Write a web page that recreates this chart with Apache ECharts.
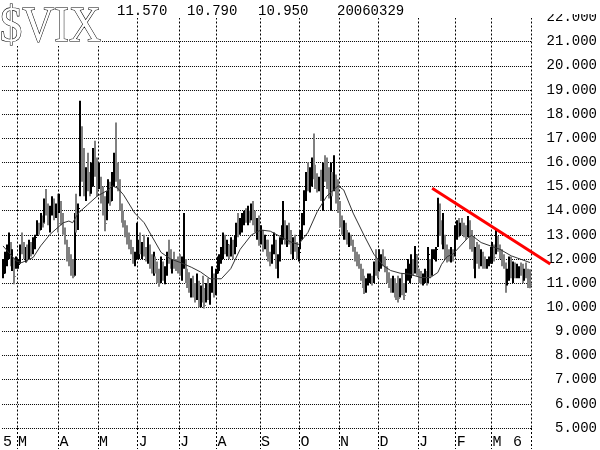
<!DOCTYPE html>
<html><head><meta charset="utf-8">
<script src="https://cdn.jsdelivr.net/npm/echarts@6/dist/echarts.min.js"></script>
<style>html,body{margin:0;padding:0;background:#fff}#c{width:600px;height:450px}</style>
</head><body><div id="c"></div>
<script>
// trading days per month: Feb-2005 (partial) ... Mar-2006 (to the 29th)
const monthDays = [8,22,21,21,22,20,23,21,21,21,21,20,19,21];
const monthLetters = ['','M','A','M','J','J','A','S','O','N','D','J','F','M'];
const yearLabelIdx = [0, 271];
const yearLabelText = ['5', '6'];
const headerTexts = ['11.570','10.790','10.950','20060329'];

const hi = [
12.0,12.3,12.6,13.1,12.7,12.4,12.05,12.1,
12.0,12.6,13.1,12.7,12.5,12.6,12.8,12.7,12.9,13.0,13.6,13.5,13.9,13.8,14.5,14.9,14.3,14.2,14.6,14.5,14.3,14.7,
14.7,14.4,13.9,13.3,12.8,12.5,12.2,12.0,13.9,14.7,14.3,18.55,17.5,16.6,15.8,16.4,15.6,16.0,16.6,16.9,16.2,
16.0,15.4,15.0,14.6,14.8,15.3,15.2,15.6,16.4,17.65,16.0,15.3,14.3,14.0,13.6,13.4,13.1,12.8,12.5,12.3,13.5,
12.8,13.1,12.7,13.0,12.5,12.9,12.6,12.2,12.3,12.1,11.9,11.6,12.1,11.9,11.7,12.3,12.8,12.4,12.0,12.3,12.0,12.1,
12.2,12.1,13.9,12.0,11.6,11.45,11.2,11.3,11.0,11.4,11.1,10.9,11.3,10.8,11.0,11.2,11.0,11.7,11.4,11.6,
12.1,12.2,12.5,13.1,13.0,12.8,12.6,12.9,12.8,12.95,13.5,13.9,13.7,13.9,14.0,14.1,14.2,14.0,14.3,14.4,14.0,13.7,13.8,
13.4,13.2,13.0,12.8,12.8,12.3,12.6,13.1,12.8,12.2,12.9,13.4,14.4,13.6,13.4,13.5,13.2,12.9,13.0,12.7,12.5,
13.2,13.9,14.85,15.6,16.0,15.8,16.2,17.2,15.9,15.55,15.4,15.7,16.0,16.3,16.2,15.8,16.0,15.6,16.3,15.5,15.3,
14.4,13.8,13.6,13.5,13.2,13.1,13.0,12.8,12.5,12.3,12.2,11.8,11.6,11.3,11.2,11.4,11.4,11.3,11.9,12.4,12.0,
12.4,12.2,12.4,12.1,11.7,11.45,11.2,11.3,11.2,11.0,11.3,11.2,11.4,11.0,11.6,12.0,11.8,12.2,12.0,12.54,12.2,
11.6,11.5,11.4,11.6,11.5,12.5,12.0,12.4,12.4,12.5,14.54,14.3,13.6,13.9,13.0,12.6,12.4,12.5,12.4,13.4,
13.6,13.7,13.5,13.7,13.5,13.4,13.78,13.6,13.2,12.95,12.5,12.7,12.6,12.4,12.3,12.1,12.0,12.1,12.5,
12.7,12.6,13.2,12.95,12.6,12.4,12.2,11.85,11.6,12.1,12.1,11.9,11.85,11.8,11.7,11.85,11.8,11.6,11.85,11.6,11.57
];
const lo = [
11.2,11.4,11.7,12.0,11.7,11.5,10.95,11.6,
11.6,11.8,12.2,12.0,11.85,11.9,12.0,12.1,12.2,12.4,12.95,13.0,13.2,13.3,13.5,13.8,13.4,13.1,13.8,13.6,13.7,13.1,
13.9,13.4,13.0,12.6,11.9,11.7,11.3,11.2,11.3,13.1,13.2,14.6,15.2,14.6,14.4,14.8,14.6,14.7,15.0,15.4,14.6,
14.9,14.3,13.8,13.15,13.6,14.3,14.2,14.4,15.0,15.2,14.8,14.0,13.5,13.3,12.9,12.6,12.4,12.2,11.8,11.7,12.0,
12.0,12.2,12.0,12.1,11.9,11.8,11.6,11.4,11.3,11.4,11.0,10.85,11.0,11.1,10.95,11.3,11.8,11.6,11.4,11.6,11.5,11.4,
11.3,11.1,11.6,11.0,10.8,10.6,10.4,10.4,10.2,10.3,10.0,10.0,10.2,9.95,10.2,10.3,10.1,10.6,10.4,10.5,
11.4,11.5,11.8,12.0,12.2,12.1,12.0,12.1,12.0,12.2,12.5,12.9,13.0,13.1,13.4,13.5,13.4,13.5,13.6,13.4,13.1,12.8,12.55,
12.6,12.3,12.4,12.1,11.9,11.7,11.8,12.2,11.6,11.2,11.9,12.6,12.8,12.6,12.5,12.6,12.2,12.0,12.3,12.0,11.9,
12.4,12.8,13.4,14.4,14.8,14.75,15.0,15.3,14.9,14.75,14.8,14.4,14.0,15.2,14.9,14.5,14.0,14.6,14.8,14.3,13.9,
13.3,13.0,12.8,12.8,12.6,12.5,12.55,12.3,11.9,11.7,11.6,11.1,10.8,10.55,10.6,10.9,11.0,10.9,11.0,11.3,11.2,
11.5,11.6,11.7,11.45,11.0,10.8,10.6,10.6,10.4,10.3,10.2,10.4,10.5,10.3,10.6,11.1,11.0,11.2,11.3,11.4,11.3,
11.0,10.95,10.9,11.0,10.9,11.0,11.2,11.3,12.0,11.9,12.5,12.95,12.6,12.4,12.0,11.85,11.9,11.85,11.9,12.1,
12.8,12.9,12.95,13.0,12.9,12.8,12.9,12.4,12.3,11.6,11.2,11.8,11.6,11.7,11.6,11.6,11.6,11.7,11.8,
11.8,11.9,12.2,12.3,12.0,11.7,11.6,10.6,10.9,11.1,11.2,11.0,11.2,11.2,11.2,11.3,11.0,11.1,11.2,10.8,10.79
];
const cl = [
11.4,12.1,12.4,12.6,11.9,12.0,11.3,11.8,
11.8,12.5,12.4,12.2,12.3,12.0,12.6,12.3,12.7,12.9,13.4,13.2,13.7,13.5,14.2,14.0,13.6,14.0,14.4,13.9,14.1,13.5,
14.4,13.6,13.2,12.8,12.1,11.9,11.5,11.3,13.6,13.4,14.1,17.4,16.0,14.9,15.3,15.0,14.8,15.6,16.2,15.8,14.8,
15.2,14.5,14.0,13.5,14.5,15.0,14.4,15.4,16.0,15.5,15.0,14.2,13.7,13.5,13.1,12.8,12.6,12.3,12.0,12.2,12.2,
12.5,12.4,12.6,12.3,12.0,12.5,11.8,11.6,12.0,11.5,11.2,11.0,11.8,11.3,11.5,12.1,12.0,11.8,11.9,11.8,11.7,11.6,
11.5,11.9,12.0,11.2,11.0,10.8,11.0,10.6,10.4,11.1,10.3,10.5,10.3,10.1,10.8,10.5,10.8,11.1,10.7,11.4,
11.9,12.0,12.3,12.9,12.4,12.6,12.2,12.7,12.3,12.8,13.3,13.2,13.5,13.6,13.8,13.7,14.0,13.7,14.1,13.6,13.3,13.5,12.8,
12.9,12.5,12.8,12.3,12.1,12.0,12.4,12.4,11.9,12.0,12.7,13.0,13.3,12.9,13.2,12.8,12.5,12.7,12.4,12.2,12.3,
13.0,13.7,14.6,15.2,15.1,15.5,15.9,15.6,15.2,15.0,15.2,14.6,15.8,15.5,15.3,14.7,15.4,15.0,15.1,14.9,14.1,
13.5,13.2,13.4,13.0,12.8,12.9,12.7,12.4,12.1,11.9,11.8,11.3,11.0,10.8,11.0,11.1,11.2,11.1,11.7,11.6,11.5,
11.7,12.0,11.9,11.6,11.2,11.0,10.8,11.1,10.6,10.5,10.4,10.9,10.7,10.5,11.4,11.5,11.6,11.9,11.5,12.2,11.5,
11.3,11.1,11.2,11.4,11.0,12.2,11.5,12.1,12.2,12.4,14.0,13.3,12.8,13.0,12.2,12.1,12.0,12.3,12.0,13.1,
13.3,13.1,13.4,13.2,13.1,13.0,13.5,12.6,12.5,11.9,12.2,12.0,11.8,12.2,11.9,11.8,11.9,12.0,12.3,
12.4,12.1,12.9,12.5,12.2,11.9,11.8,11.0,11.3,11.9,11.4,11.7,11.4,11.5,11.6,11.4,11.2,11.5,11.3,11.1,10.95
];
// moving average (bar index, value)
const maIdx = [0,7,10,16,20,25,32,35,37,40,45,50,56,58,61,64,70,75,79,84,89,94,100,105,110,116,121,126,132,137,142,148,153,157,162,167,172,178,181,186,192,197,202,206,211,216,222,227,231,233,236,239,243,247,249,254,259,264,270,275,280];
const maVal = [12.54,11.92,11.85,12.06,12.54,13.02,13.5,13.57,13.5,13.9,14.25,14.6,14.86,15.03,14.93,14.66,13.9,13.5,12.95,12.27,12.0,11.86,11.66,11.46,11.18,11.18,11.6,12.4,13.0,13.2,13.15,12.9,12.7,12.6,13.1,13.97,14.6,15.03,14.86,13.9,12.95,12.2,11.72,11.52,11.41,11.37,11.23,11.23,11.44,11.78,12.1,12.2,12.54,12.88,12.98,12.68,12.54,12.4,12.13,11.99,11.85];
// hand-drawn trendline (bar index, value)
const trendX = [228.1, 290.7];
const trendY = [14.96, 11.83];

// build categories
const categories = [];
const monthStart = {};
monthDays.forEach((n, m) => {
  for (let d = 0; d < n; d++) {
    if (d === 0 && m > 0) monthStart[categories.length] = true;
    categories.push(d === 0 && m > 0 ? monthLetters[m] : '');
  }
});
yearLabelIdx.forEach((idx, k) => { categories[idx] = yearLabelText[k]; });
const nBars = categories.length;

const barData = hi.map((h, i) => [i, h, lo[i], cl[i], (i === 0 || cl[i] >= cl[i - 1]) ? 1 : 0]);
const maData = maIdx.map((i, k) => [i, maVal[k]]);
const trendData = trendX.map((x, k) => [x, trendY[k]]);

// layout
const GL = 1, GR = 69, GT = 17.5, GB = 20.4;
const plotW = 600 - GL - GR;
const ext2Max = -0.5 + (600 - GL) / (plotW / nBars); // wider overlay axis, same scale

const FONT = '"Liberation Mono", "DejaVu Sans Mono", monospace';
const chart = echarts.init(document.getElementById('c'), null, {renderer: 'canvas'});
chart.setOption({
  animation: false,
  backgroundColor: '#fff',
  grid: [
    {left: GL, right: GR, top: GT, bottom: GB, containLabel: false},
    {left: GL, right: 0, top: GT, bottom: GB, containLabel: false}
  ],
  xAxis: [{
    type: 'category', data: categories, boundaryGap: true, gridIndex: 0,
    axisLine: {show: false},
    axisTick: {show: true, interval: (idx) => !!monthStart[idx], length: 21,
      lineStyle: {color: '#000', width: 1, type: [2, 2]}},
    axisLabel: {
      margin: 7, align: 'left', color: '#000',
      fontFamily: FONT, fontSize: 15,
      interval: (idx, val) => val !== ''
    },
    splitLine: {show: true, interval: (idx) => !!monthStart[idx],
      lineStyle: {color: '#000', width: 1, type: [2, 2]}}
  }, {
    type: 'value', gridIndex: 1, min: -0.5, max: ext2Max, show: false
  }],
  yAxis: [{
    type: 'value', gridIndex: 0, position: 'right', min: 5, max: 22, interval: 1,
    axisLine: {show: false}, axisTick: {show: false},
    axisLabel: {
      align: 'right', margin: 66, color: '#000', fontFamily: FONT, fontSize: 14,
      formatter: v => v.toFixed(3)
    },
    splitLine: {show: true, lineStyle: {color: '#000', width: 1, type: [1, 1]}}
  }, {
    type: 'value', gridIndex: 1, min: 5, max: 22, show: false
  }],
  series: [{
    type: 'custom', xAxisIndex: 0, yAxisIndex: 0, data: barData, encode: {x: 0, y: [1, 2]}, z: 2,
    renderItem: (params, api) => {
      const i = api.value(0);
      const t = api.coord([i, api.value(1)]);
      const b = api.coord([i, api.value(2)]);
      const c = api.coord([i, api.value(3)]);
      const x0 = Math.round(t[0]) - 1;
      const cy = Math.round(c[1]);
      const col = api.value(4) ? '#000' : '#808080';
      return {type: 'group', children: [
        {type: 'rect', shape: {x: x0, y: t[1], width: 2, height: Math.max(1, b[1] - t[1])}, style: {fill: col}},
        {type: 'rect', shape: {x: x0 + 2, y: cy, width: 1, height: 1}, style: {fill: col}}
      ]};
    }
  }, {
    type: 'line', xAxisIndex: 0, yAxisIndex: 0, data: maData, symbol: 'none', z: 3,
    lineStyle: {color: '#333', width: 1}
  }, {
    type: 'line', xAxisIndex: 1, yAxisIndex: 1, data: trendData, symbol: 'none', z: 4,
    lineStyle: {color: '#ff0000', width: 3}
  }],
  graphic: [
    {type: 'rect', left: 0, top: 0, shape: {width: 600, height: 14}, style: {fill: '#fff'}, z: 100},
    {type: 'rect', left: 0, top: 0, shape: {width: 533, height: 18}, style: {fill: '#fff'}, z: 100},
    {type: 'rect', left: 0, top: 0, shape: {width: 102, height: 46}, style: {fill: '#fff'}, z: 100},
    {type: 'rect', left: 534, top: 433, shape: {width: 66, height: 17}, style: {fill: '#fff'}, z: 100},
    {type: 'text', x: 0, y: 2, scaleX: 0.87, z: 101,
      style: {text: '$VIX', font: '51px "Liberation Serif"', fill: '#fff', stroke: '#000', lineWidth: 1.2, verticalAlign: 'top'}},
    ...headerTexts.map((t, k) => ({type: 'text', x: [117, 187, 258, 337][k], y: 4, z: 101,
      style: {text: t, font: '14px "Liberation Mono", "DejaVu Sans Mono", monospace', fill: '#000', verticalAlign: 'top'}}))
  ]
});
</script></body></html>
